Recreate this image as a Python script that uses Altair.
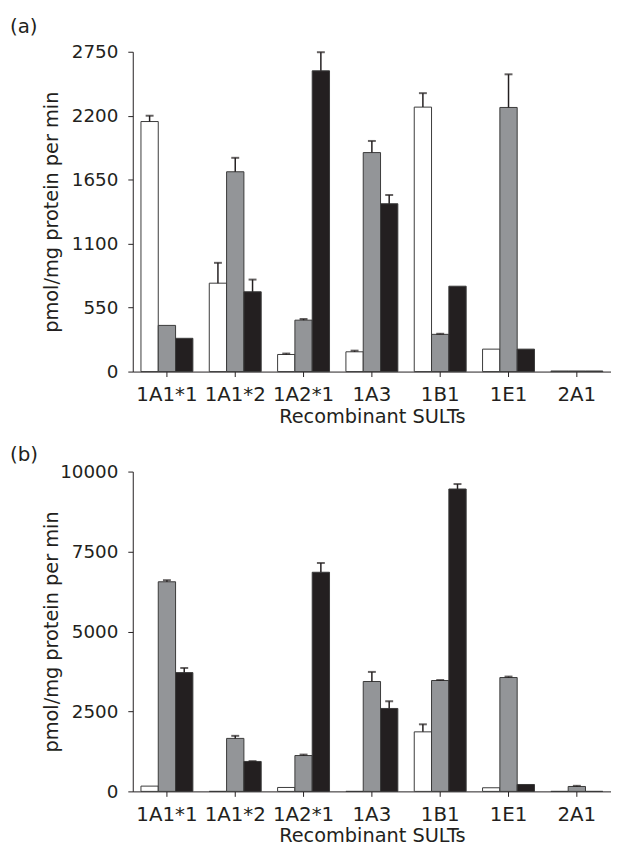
import altair as alt
import pandas as pd

# ---------------- data ----------------
categories = ["1A1*1", "1A1*2", "1A2*1", "1A3", "1B1", "1E1", "2A1"]
series = ["Series 1", "Series 2", "Series 3"]
series_colors = ["#ffffff", "#939598", "#231f20"]

# panel (a)
a_s1 = [2150, 760, 147, 170, 2274, 193, 5]
a_s1_err = [50, 175, 8, 10, 120, 0, 0]
a_s2 = [397, 1718, 442, 1883, 320, 2271, 5]
a_s2_err = [0, 120, 10, 100, 5, 285, 0]
a_s3 = [286, 686, 2586, 1443, 734, 193, 5]
a_s3_err = [0, 105, 160, 75, 0, 0, 0]
a_ticks = [0, 550, 1100, 1650, 2200, 2750]

# panel (b)
b_s1 = [165, 0, 123, 0, 1862, 113, 0]
b_s1_err = [0, 0, 0, 0, 235, 0, 0]
b_s2 = [6554, 1657, 1121, 3436, 3467, 3560, 154]
b_s2_err = [50, 80, 30, 300, 15, 30, 20]
b_s3 = [3714, 936, 6852, 2593, 9455, 216, 0]
b_s3_err = [145, 10, 290, 225, 155, 0, 0]
b_ticks = [0, 2500, 5000, 7500, 10000]

panel_labels = ["(a)", "(b)"]
x_title = "Recombinant SULTs"
y_title = "pmol/mg protein per min"

FONT = "DejaVu Sans"
INK = "#231f20"
W, H = 483, 323


def long_df(vals, errs):
    rows = []
    for s, v, e in zip(series, vals, errs):
        for c, vv, ee in zip(categories, v, e):
            rows.append({"sult": c, "series": s, "value": vv, "err": ee, "top": vv + ee})
    return pd.DataFrame(rows)


def panel(df, ymax, ticks, label, label_y):
    x_enc = alt.X("sult:N", sort=categories,
                  scale=alt.Scale(paddingInner=0.24, paddingOuter=0.12),
                  axis=alt.Axis(title=x_title, labelAngle=0, labelPadding=8,
                                titlePadding=3))
    xo_enc = alt.XOffset("series:N", sort=series,
                         scale=alt.Scale(domain=series, paddingInner=0, paddingOuter=0))
    y_scale = alt.Scale(domain=[0, ymax], nice=False)

    bars = alt.Chart(df).mark_bar(stroke="#3a3a3a", strokeWidth=1).encode(
        x=x_enc,
        xOffset=xo_enc,
        y=alt.Y("value:Q", scale=y_scale,
                axis=alt.Axis(title=y_title, values=ticks, format="d", labelPadding=10,
                              titleX=-72, titleY=H / 2)),
        color=alt.Color("series:N", scale=alt.Scale(domain=series, range=series_colors),
                        legend=None),
    )
    edf = df[df["err"] > 0]
    stems = alt.Chart(edf).mark_rule(color=INK, strokeWidth=1.5).encode(
        x=alt.X("sult:N", sort=categories),
        xOffset=alt.XOffset("series:N", sort=series),
        y=alt.Y("value:Q", scale=y_scale),
        y2="top:Q",
    )
    caps = alt.Chart(edf).mark_tick(color=INK, size=8, thickness=2, orient="horizontal").encode(
        x=alt.X("sult:N", sort=categories),
        xOffset=alt.XOffset("series:N", sort=series),
        y=alt.Y("top:Q", scale=y_scale),
    )
    lab = alt.Chart(pd.DataFrame({"t": [label]})).mark_text(
        align="left", baseline="middle", font=FONT, fontSize=20, color=INK
    ).encode(text="t:N", x=alt.value(-124), y=alt.value(label_y))
    return alt.layer(bars, stems, caps, lab).properties(width=W, height=H)


pa = panel(long_df([a_s1, a_s2, a_s3], [a_s1_err, a_s2_err, a_s3_err]), 2750, a_ticks,
           panel_labels[0], -24.5)
pb = panel(long_df([b_s1, b_s2, b_s3], [b_s1_err, b_s2_err, b_s3_err]), 10000, b_ticks,
           panel_labels[1], -16.7)

chart = alt.vconcat(pa, pb, spacing=19).properties(
    padding={"left": 2, "top": 5, "right": 0, "bottom": 0}
).configure_axis(
    labelFont=FONT, labelColor=INK,
    titleFont=FONT, titleFontSize=19.5, titleFontWeight="normal", titleColor=INK,
    domainColor=INK, tickColor=INK, tickSize=5, grid=False,
).configure_axisX(
    labelFontSize=20,
).configure_axisY(
    labelFontSize=18.5,
).configure_view(stroke=None)

chart.save("out.html", embed_options={"renderer": "svg", "actions": False})
